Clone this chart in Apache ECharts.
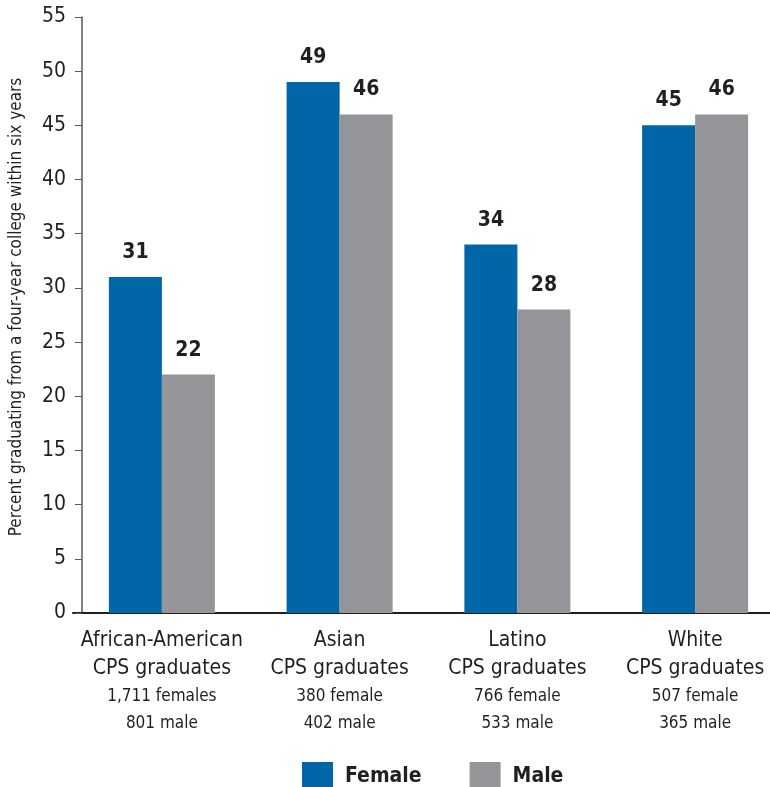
<!DOCTYPE html>
<html>
<head>
<meta charset="utf-8">
<script src="https://cdn.jsdelivr.net/npm/echarts@6/dist/echarts.min.js"></script>
<style>
html,body{margin:0;padding:0;background:#fff;overflow:hidden;width:770px;height:787px;}
#c{width:786px;height:787px;}
</style>
</head>
<body>
<div id="c"></div>
<script>
const groupNames = ['African-American', 'Asian', 'Latino', 'White'];
const groupSub = ['CPS graduates', 'CPS graduates', 'CPS graduates', 'CPS graduates'];
const femaleCounts = ['1,711 females', '380 female', '766 female', '507 female'];
const maleCounts = ['801 male', '402 male', '533 male', '365 male'];
const femaleValues = [31, 49, 34, 45];
const maleValues = [22, 46, 28, 46];
const yTicks = [0, 5, 10, 15, 20, 25, 30, 35, 40, 45, 50, 55];
const yTitle = 'Percent graduating from a four-year college within six years';

const FONT = '"Liberation Sans Narrow", "DejaVu Sans Condensed", "Roboto Condensed", sans-serif';
const TXT = '#231f20';

const categories = groupNames.map((n, i) => '{a|' + n + '}\n{a|' + groupSub[i] + '}\n{b|' + femaleCounts[i] + '}\n{b|' + maleCounts[i] + '}');

const chart = echarts.init(document.getElementById('c'), null, {renderer: 'canvas'});
chart.setOption({
  animation: false,
  backgroundColor: '#fff',
  textStyle: {fontFamily: FONT, color: TXT},
  grid: {left: 71, right: 2, top: 17, bottom: 174, containLabel: false},
  legend: {
    data: ['Female', 'Male'],
    top: 757,
    left: 297,
    itemWidth: 31,
    itemHeight: 30,
    itemGap: 48,
    icon: 'rect',
    textStyle: {fontFamily: FONT, fontSize: 21, fontWeight: 'bold', color: TXT, padding: [0, 0, 0, 7]}
  },
  xAxis: {
    type: 'category',
    data: categories,
    axisLine: {lineStyle: {color: '#231f20', width: 2}},
    axisTick: {show: false},
    axisLabel: {
      interval: 0,
      margin: 14,
      color: TXT,
      fontFamily: FONT,
      rich: {
        a: {fontSize: 21, lineHeight: 28, color: TXT, fontFamily: FONT},
        b: {fontSize: 17, lineHeight: 27, color: TXT, fontFamily: FONT}
      }
    }
  },
  yAxis: {
    type: 'value',
    min: yTicks[0],
    max: yTicks[yTicks.length - 1],
    interval: 5,
    offset: -9,
    name: yTitle,
    nameLocation: 'middle',
    nameRotate: 90,
    nameGap: 57,
    nameTextStyle: {fontSize: 17, color: TXT, fontFamily: FONT, padding: [0, 0, 0, 16]},
    axisLine: {show: true, lineStyle: {color: '#58595b', width: 1.5}},
    axisTick: {show: true, length: 7, lineStyle: {color: '#58595b'}},
    axisLabel: {fontSize: 21, color: TXT, margin: 16, fontFamily: FONT},
    splitLine: {show: false}
  },
  series: [
    {
      name: 'Female',
      type: 'bar',
      data: femaleValues,
      barWidth: 53,
      barGap: '0%',
      itemStyle: {color: '#0066a8'},
      label: {show: true, position: 'top', distance: 14, fontSize: 21, fontWeight: 'bold', color: TXT, fontFamily: FONT}
    },
    {
      name: 'Male',
      type: 'bar',
      data: maleValues,
      barWidth: 53,
      barGap: '0%',
      itemStyle: {color: '#939598'},
      label: {show: true, position: 'top', distance: 14, fontSize: 21, fontWeight: 'bold', color: TXT, fontFamily: FONT}
    }
  ]
});
</script>
</body>
</html>
